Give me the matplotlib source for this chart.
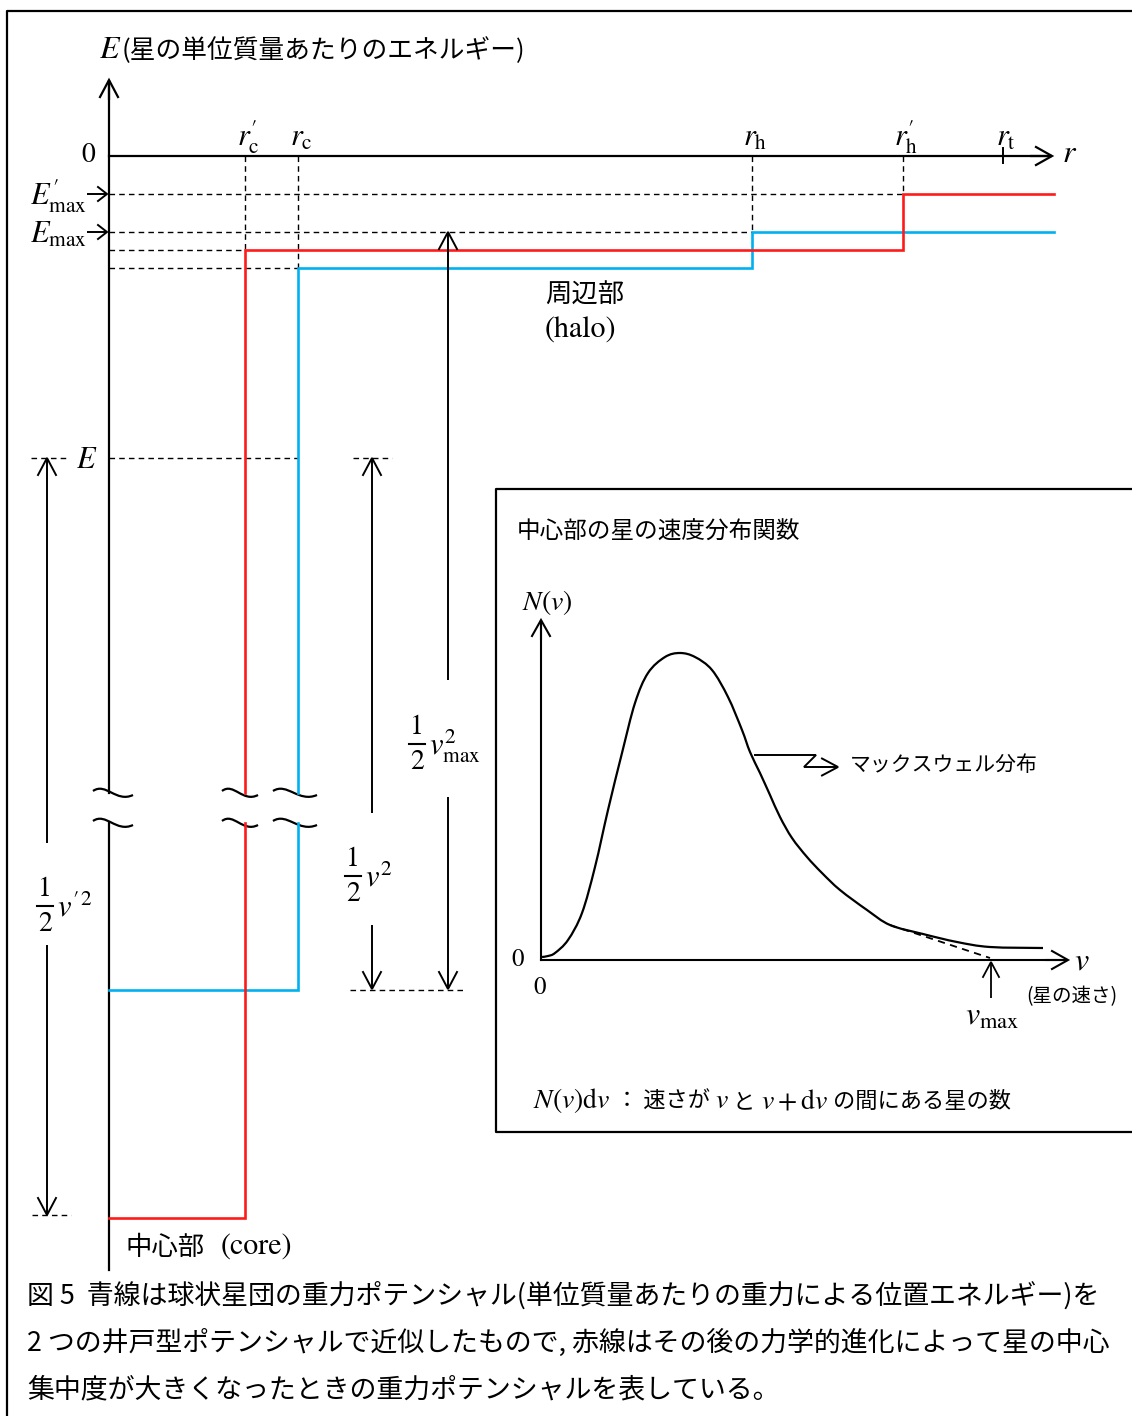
import numpy as np
import matplotlib
matplotlib.use("Agg")
import matplotlib.pyplot as plt
from matplotlib.path import Path
from matplotlib.patches import PathPatch

plt.rcParams['mathtext.fontset'] = 'stix'
plt.rcParams['font.family'] = ['Noto Sans CJK JP', 'DejaVu Sans']
JP = 'Noto Sans CJK JP'
SERIF = 'STIXGeneral'

# ---------------- data (diagram units, y grows downward) ----------------
# radii on the r axis
r_labels = [r"$r^{\prime}_{\mathrm{c}}$", r"$r_{\mathrm{c}}$", r"$r_{\mathrm{h}}$",
            r"$r^{\prime}_{\mathrm{h}}$", r"$r_{\mathrm{t}}$"]
r_values = [245, 298, 752, 903, 1003]
r_origin = 109
r_end = 1054
# energy levels
E_zero = 156
E_max_prime = 194
E_max = 232
E_star = 458
blue_levels = [990, 268, 232]     # core well, halo well, outside (E_max)
red_levels = [1218, 250, 194]     # core well, halo well, outside (E'_max)
# Maxwell distribution curve (inset)
maxwell_v = [542, 548, 555, 568, 582, 595, 608, 622, 635, 648, 665, 680, 695, 712,
             728, 742, 750, 760, 770, 780, 792, 807, 822, 840, 867, 890, 923, 957,
             990, 1043]
maxwell_N = [957, 956, 953, 940, 913, 867, 810, 753, 703, 673, 657, 653, 657, 670,
             697, 730, 752, 773, 795, 817, 838, 857, 873, 890, 910, 925, 934, 942,
             947, 948]
cut_v = [890, 990]
cut_N = [925, 958]
v_max_pos = 991

BLUE = '#00b0f0'
RED = '#ff1a1a'

fig = plt.figure(figsize=(11.32, 14.16), dpi=100)
ax = fig.add_axes([0, 0, 1, 1])
ax.set_xlim(0, 1132)
ax.set_ylim(1416, 0)
ax.axis('off')
renderer = fig.canvas.get_renderer()


def arrow(x0, y0, x1, y1, hl=15, hw=8.5, lw=1.4, color='black'):
    ax.plot([x0, x1], [y0, y1], color=color, lw=lw, solid_capstyle='butt')
    d = np.array([x1 - x0, y1 - y0], float)
    d /= np.hypot(*d)
    n = np.array([-d[1], d[0]])
    b = np.array([x1, y1]) - d * hl
    p1 = b + n * hw
    p2 = b - n * hw
    ax.plot([p1[0], x1, p2[0]], [p1[1], y1, p2[1]], color=color, lw=lw,
            solid_joinstyle='miter')


def dashed(xs, ys, lw=1.0):
    ax.plot(xs, ys, color='black', lw=lw, dashes=(4, 3))


def tilde(xl, xr, y0, lw=1.6):
    w = xr - xl
    verts = [(xl, y0 - 1), (xl + 0.32 * w, y0 - 10), (xl + 0.58 * w, y0 + 11), (xr, y0 + 3)]
    p = Path(verts, [Path.MOVETO, Path.CURVE4, Path.CURVE4, Path.CURVE4])
    ax.add_patch(PathPatch(p, fill=False, lw=lw, color='black'))


def smooth_path(xs, ys):
    # Catmull-Rom through the read points, drawn as cubic Bezier segments
    P = np.column_stack([xs, ys]).astype(float)
    verts = [tuple(P[0])]
    codes = [Path.MOVETO]
    n = len(P)
    for i in range(n - 1):
        p0 = P[i - 1] if i > 0 else P[i]
        p1 = P[i]
        p2 = P[i + 1]
        p3 = P[i + 2] if i + 2 < n else P[i + 1]
        c1 = p1 + (p2 - p0) / 6.0
        c2 = p2 - (p3 - p1) / 6.0
        verts += [tuple(c1), tuple(c2), tuple(p2)]
        codes += [Path.CURVE4] * 3
    return Path(verts, codes)


def fraction(xc, yc, tail, fs=20, gap=17, barw=16):
    ax.text(xc, yc - gap, "1", fontsize=fs, family=SERIF, ha='center', va='center')
    ax.text(xc, yc + gap + 1, "2", fontsize=fs, family=SERIF, ha='center', va='center')
    ax.plot([xc - barw / 2, xc + barw / 2], [yc, yc], color='black', lw=1.5)
    ax.text(xc + barw / 2 + 4, yc + 2, tail, fontsize=fs + 2, ha='left', va='center')


def seq_text(x, y, pieces):
    for s, fs, fam, dy in pieces:
        t = ax.text(x, y + dy, s, fontsize=fs, family=fam, ha='left', va='baseline')
        bb = t.get_window_extent(renderer=renderer)
        x += bb.width


# outer frame
ax.plot([7, 7, 1140], [1420, 11, 11], color='black', lw=1.6)

# break positions
brk_top, brk_bot = 793, 823

# ---------------- main E axis ----------------
ax.plot([r_origin, r_origin], [82, brk_top], color='black', lw=1.6)
ax.plot([r_origin, r_origin], [brk_bot, 1270], color='black', lw=1.6)
arrow(r_origin, 100, r_origin, 80, hl=17, hw=9, lw=1.6)
seq_text(99, 58, [(r"$E$", 23, JP, 0), ("(星の単位質量あたりのエネルギー)", 18.5, JP, 0)])

# r axis
ax.plot([r_origin, 1050], [E_zero, E_zero], color='black', lw=1.6)
arrow(1030, E_zero, 1052, E_zero, hl=16, hw=9, lw=1.6)
ax.text(1070, 153, r"$r$", fontsize=23, ha='center', va='center')
ax.text(88, 155, "0", fontsize=20, family=SERIF, ha='center', va='center')
ax.plot([r_values[4], r_values[4]], [148, 163], color='black', lw=1.4)
for lab, x in zip(r_labels, r_values):
    ax.text(x + 3, 137, lab, fontsize=22, ha='center', va='center')

# dashed verticals from r axis down to levels
dashed([r_values[0]] * 2, [E_zero, red_levels[1]])
dashed([r_values[1]] * 2, [E_zero, blue_levels[1]])
dashed([r_values[2]] * 2, [E_zero, blue_levels[2]])
dashed([r_values[3]] * 2, [E_zero, red_levels[2]])
# dashed horizontals
dashed([r_origin, r_values[3]], [E_max_prime] * 2)
dashed([r_origin, r_values[2]], [E_max] * 2)
dashed([r_origin, r_values[0]], [red_levels[1]] * 2)
dashed([r_origin, r_values[1]], [blue_levels[1]] * 2)
dashed([r_origin, r_values[1]], [E_star] * 2)
dashed([31, 66], [E_star] * 2)
dashed([353, 392], [E_star] * 2)
dashed([350, 464], [blue_levels[0]] * 2)
dashed([32, 71], [red_levels[0] - 3] * 2)

# E'max, Emax labels with arrows
ax.text(58, 196, r"$E^{\prime}_{\mathrm{max}}$", fontsize=22, ha='center', va='center')
arrow(87, E_max_prime, 107, E_max_prime, hl=9, hw=7, lw=1.4)
ax.text(58, 234, r"$E_{\mathrm{max}}$", fontsize=22, ha='center', va='center')
arrow(87, E_max, 107, E_max, hl=9, hw=7, lw=1.4)
ax.text(87, 460, r"$E$", fontsize=22, ha='center', va='center')


# potential lines (with break)
def potential(levels, r_core, r_halo, color):
    core, halo, top = levels
    ax.plot([r_end, r_halo, r_halo, r_core, r_core], [top, top, halo, halo, brk_top],
            color=color, lw=1.9, solid_joinstyle='miter')
    ax.plot([r_core, r_core, r_origin], [brk_bot, core, core], color=color, lw=1.9,
            solid_joinstyle='miter')


potential(blue_levels, r_values[1], r_values[2], BLUE)
potential(red_levels, r_values[0], r_values[3], RED)

# break marks
for (xl, xr) in [(93, 133), (222, 258), (273, 317)]:
    tilde(xl, xr, brk_top - 1)
    tilde(xl, xr, brk_bot - 1)

# halo / core labels
ax.text(545, 295, "周辺部", fontsize=19, family=JP, ha='left', va='center')
ax.text(545, 331, "(halo)", fontsize=21.5, family=SERIF, ha='left', va='center')
ax.text(125, 1247, "中心部", fontsize=19, family=JP, ha='left', va='center')
ax.text(221, 1247, "(core)", fontsize=21.5, family=SERIF, ha='left', va='center')

# energy arrows
# left: 1/2 v'^2
arrow(47, 843, 47, E_star, hl=17, hw=9)
arrow(47, 945, 47, red_levels[0] - 3, hl=17, hw=9)
fraction(45, 906, r"$v'^{2}$")
# middle: 1/2 v^2
arrow(372, 813, 372, E_star, hl=17, hw=9)
arrow(372, 925, 372, blue_levels[0] - 1, hl=17, hw=9)
fraction(353, 876, r"$v^{2}$")
# right: 1/2 vmax^2
arrow(448, 680, 448, E_max, hl=17, hw=9)
arrow(448, 797, 448, blue_levels[0] - 1, hl=17, hw=9)
fraction(417, 744, r"$v^{2}_{\mathrm{max}}$")

# ---------------- inset ----------------
ax.plot([1140, 496, 496, 1140], [489, 489, 1132, 1132], color='black', lw=1.6)
ax.text(517, 532, "中心部の星の速度分布関数", fontsize=17, family=JP, ha='left', va='center')
ax.text(522, 602, r"$N(v)$", fontsize=20, ha='left', va='center')
ax.plot([541, 541], [622, 960], color='black', lw=1.5)
arrow(541, 640, 541, 620, hl=16, hw=9, lw=1.5)
ax.plot([541, 1066], [960, 960], color='black', lw=1.5)
arrow(1045, 960, 1068, 960, hl=16, hw=9, lw=1.5)
ax.text(1082, 961, r"$v$", fontsize=23, ha='center', va='center')
ax.text(518, 960, "0", fontsize=18, family=SERIF, ha='center', va='center')
ax.text(540, 988, "0", fontsize=18, family=SERIF, ha='center', va='center')

ax.add_patch(PathPatch(smooth_path(maxwell_v, maxwell_N), fill=False, lw=1.6,
                       color='black'))
ax.plot(cut_v, cut_N, color='black', lw=1.3, dashes=(4, 3))

# v_max marker
arrow(v_max_pos, 998, v_max_pos, 962, hl=15, hw=8, lw=1.3)
ax.text(992, 1016, r"$v_{\mathrm{max}}$", fontsize=23, ha='center', va='center')
ax.text(1026, 997, "(星の速さ)", fontsize=14, family=JP, ha='left', va='center')

# Maxwell label pointer
ax.plot([755, 816, 804, 830], [755, 755, 767, 767], color='black', lw=1.4,
        solid_joinstyle='miter')
arrow(820, 767, 838, 767, hl=16, hw=8.5, lw=1.4)
ax.text(850, 765, "マックスウェル分布", fontsize=15, family=JP, ha='left', va='center')

seq_text(533, 1108, [(r"$N(v)\mathrm{d}v$", 20, JP, 0),
                     (" ： 速さが ", 16, JP, 0),
                     (r"$v$", 20, JP, 0),
                     (" と ", 16, JP, 0),
                     (r"$v+\mathrm{d}v$", 20, JP, 0),
                     (" の間にある星の数", 16, JP, 0)])

# ---------------- caption ----------------
cap = ["図 5  青線は球状星団の重力ポテンシャル(単位質量あたりの重力による位置エネルギー)を",
       "2 つの井戸型ポテンシャルで近似したもので, 赤線はその後の力学的進化によって星の中心",
       "集中度が大きくなったときの重力ポテンシャルを表している。"]
for i, line in enumerate(cap):
    ax.text(27, 1296 + 47 * i, line, fontsize=19.4, family=JP, ha='left', va='center')

fig.savefig('out.png', dpi=100)
